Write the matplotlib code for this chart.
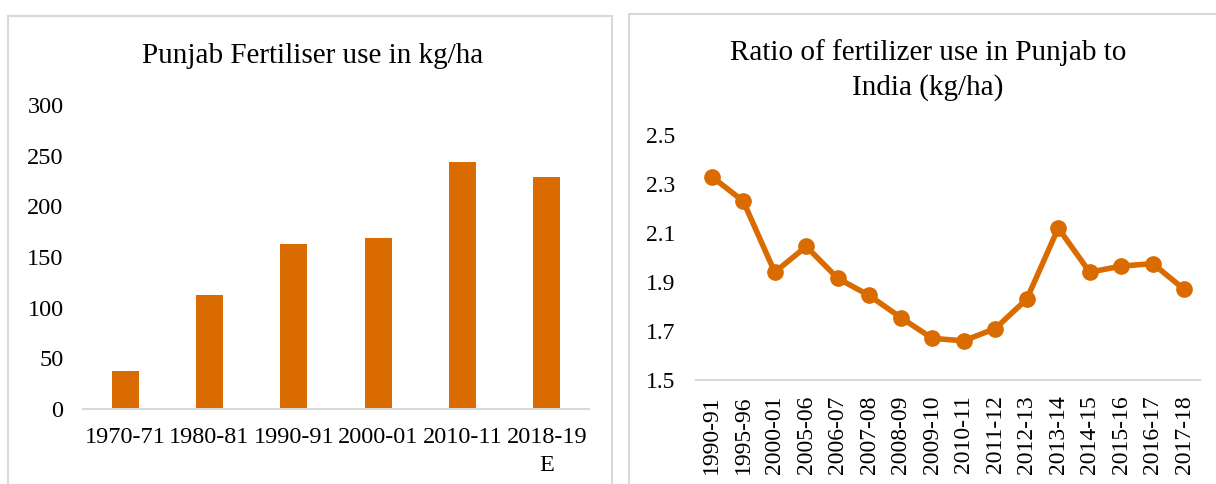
import matplotlib
matplotlib.use("Agg")
import matplotlib.pyplot as plt
from matplotlib.patches import Rectangle

plt.rcParams['font.family'] = ['Liberation Serif', 'DejaVu Serif']

# left chart data
years_left = ['1970-71', '1980-81', '1990-91', '2000-01', '2010-11', '2018-19\nE']
use_kg_ha = [37.5, 112.5, 163, 169, 244, 229]

# right chart data
years_right = ['1990-91', '1995-96', '2000-01', '2005-06', '2006-07', '2007-08',
               '2008-09', '2009-10', '2010-11', '2011-12', '2012-13', '2013-14',
               '2014-15', '2015-16', '2016-17', '2017-18']
ratio = [2.33, 2.23, 1.94, 2.045, 1.915, 1.845, 1.755, 1.67, 1.66, 1.71,
         1.83, 2.12, 1.94, 1.965, 1.975, 1.87]

orange = '#D96B00'
grid_gray = '#D9D9D9'
W, H = 1216, 484

fig = plt.figure(figsize=(W / 100, H / 100), dpi=100)

# panel frames
fig.add_artist(Rectangle((8 / W, -0.01), (612 - 8) / W, (H - 16) / H + 0.01,
                         transform=fig.transFigure, fill=False, ec=grid_gray, lw=1.5))
fig.add_artist(Rectangle((629 / W, -0.01), (W - 629 + 5) / W, (H - 14) / H + 0.01,
                         transform=fig.transFigure, fill=False, ec=grid_gray, lw=1.5))

# left bar chart
ax1 = fig.add_axes([83 / W, 75 / H, 506 / W, 304 / H])
ax1.bar(range(len(years_left)), use_kg_ha, width=0.32, color=orange)
ax1.set_xlim(-0.5, len(years_left) - 0.5)
ax1.set_ylim(0, 300)
ax1.set_yticks(range(0, 301, 50))
ax1.set_xticks(range(len(years_left)))
ax1.set_xticklabels(years_left, linespacing=1.45)
for s in ['top', 'right', 'left']:
    ax1.spines[s].set_visible(False)
ax1.spines['bottom'].set_color(grid_gray)
ax1.spines['bottom'].set_linewidth(1.5)
ax1.tick_params(length=0, labelsize=17.5)
ax1.tick_params(axis='x', pad=13)
ax1.tick_params(axis='y', pad=14)
fig.text(313 / W, 1 - 56 / H, 'Punjab Fertiliser use in kg/ha', ha='center', va='center', fontsize=21)

# right line chart
ax2 = fig.add_axes([696 / W, 104 / H, 504 / W, 245 / H])
ax2.plot(range(len(years_right)), ratio, color=orange, lw=4, marker='o', markersize=11)
ax2.set_xlim(-0.5, len(years_right) - 0.5)
ax2.set_ylim(1.5, 2.5)
ax2.set_yticks([1.5, 1.7, 1.9, 2.1, 2.3, 2.5])
ax2.set_yticklabels(['1.5', '1.7', '1.9', '2.1', '2.3', '2.5'])
ax2.set_xticks(range(len(years_right)))
ax2.set_xticklabels(years_right, rotation=90)
for s in ['top', 'right', 'left']:
    ax2.spines[s].set_visible(False)
ax2.spines['bottom'].set_color(grid_gray)
ax2.spines['bottom'].set_linewidth(1.5)
ax2.tick_params(length=0, labelsize=17)
ax2.tick_params(axis='x', pad=11)
ax2.tick_params(axis='y', pad=15)
fig.text(928 / W, 1 - 70 / H, 'Ratio of fertilizer use in Punjab to\nIndia (kg/ha)',
         ha='center', va='center', fontsize=21, linespacing=1.4)

fig.savefig('out.png', dpi=100)
